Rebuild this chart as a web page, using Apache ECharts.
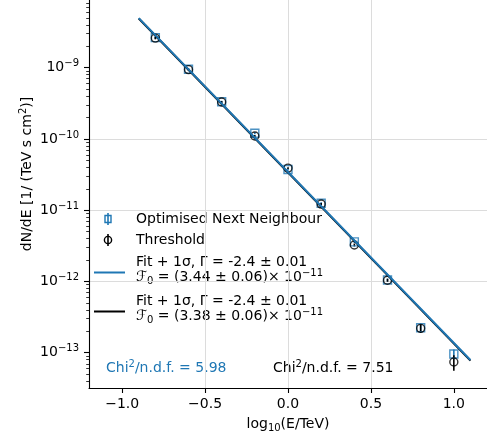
<!DOCTYPE html>
<html><head><meta charset="utf-8">
<script src="https://cdn.jsdelivr.net/npm/echarts@6/dist/echarts.min.js"></script>
<style>html,body{margin:0;padding:0;background:#fff}#c{width:487px;height:439px}</style>
</head><body><div id="c"></div>
<script>
// ---- data ----
const energyLog = [-0.8, -0.6, -0.4, -0.2, 0.0, 0.2, 0.4, 0.6, 0.8, 1.0];
const fluxONN  = [2.64e-9, 9.5e-10, 3.33e-10, 1.2e-10, 3.72e-11, 1.25e-11, 3.6e-12, 1.05e-12, 2.24e-13, 9.6e-14];
const errONN   = [1.0e-10, 3.0e-11, 1.0e-11, 4.0e-12, 1.2e-12, 4.0e-13, 1.5e-13, 5.0e-14, 3.0e-14, 1.5e-14];
const fluxThr  = [2.6e-9, 9.4e-10, 3.3e-10, 1.1e-10, 3.9e-11, 1.22e-11, 3.25e-12, 1.04e-12, 2.2e-13, 7.4e-14];
const errThr   = [1.0e-10, 3.0e-11, 1.0e-11, 4.0e-12, 1.2e-12, 4.0e-13, 1.5e-13, 5.0e-14, 3.0e-14, 1.8e-14];
const fitX     = [-0.9, 1.1];
const fitONN   = [4.97e-9, 7.9e-14];
const fitThr   = [4.9e-9, 7.75e-14];
const xTicks   = [-1.0, -0.5, 0.0, 0.5, 1.0];
const yTickExp = [-13, -12, -11, -10, -9];
const minorMult = [2, 3, 4, 5, 6, 7, 8, 9];
const seriesNames = ['Optimised Next Neighbour', 'Threshold'];
const fitLine1 = ['Fit + 1σ, Γ = -2.4 ± 0.01', 'Fit + 1σ, Γ = -2.4 ± 0.01'];
const fitNorm  = ['3.44 ± 0.06', '3.38 ± 0.06'];
const fitExp   = '−11';
const chiVals  = ['5.98', '7.51'];

// ---- styling ----
const BLUE = '#1f77b4', BLACK = '#000000';
const FONT = 'DejaVu Sans';
const FS = 14;
const lg = Math.log10;

const yMin = -13.495, yMax = -8.05;
const minorVals = [];
[-14, -13, -12, -11, -10, -9].forEach(e => minorMult.forEach(m => {
  const v = e + lg(m);
  if (v > yMin && v < yMax) minorVals.push(v);
}));

function errData(flux, err) {
  return energyLog.map((x, i) => [x, lg(flux[i] - err[i]), lg(flux[i] + err[i])]);
}
function ptData(flux) { return energyLog.map((x, i) => [x, lg(flux[i])]); }
function fitData(vals) { return fitX.map((x, i) => [x, lg(vals[i])]); }
function errSeries(flux, err, color) {
  return {
    type: 'custom', data: errData(flux, err), encode: { x: 0, y: [1, 2] }, z: 2,
    renderItem(params, api) {
      const a = api.coord([api.value(0), api.value(1)]);
      const b = api.coord([api.value(0), api.value(2)]);
      return { type: 'line', shape: { x1: a[0], y1: a[1], x2: b[0], y2: b[1] },
        style: { stroke: color, lineWidth: 1.6 } };
    }
  };
}

function richFor(c) {
  return {
    m: { fontFamily: FONT, fontSize: FS, lineHeight: 18, color: c, fill: c },
    sup: { fontFamily: FONT, fontSize: 10, lineHeight: 10, verticalAlign: 'top', color: c, fill: c },
    sub: { fontFamily: FONT, fontSize: 10, lineHeight: 10, verticalAlign: 'bottom', color: c, fill: c }
  };
}
const richMain = richFor('#000');

const chart = echarts.init(document.getElementById('c'), null, { renderer: 'canvas' });

const legendX = 136;
const graphic = [
  // y-axis title (matplotlib centres it on the full axis, part of which is cropped)
  { type: 'text', x: 27, y: 174, rotation: Math.PI / 2, style: {
      text: '{m|dN/dE [1/ (TeV s cm}{sup|2}{m|)]}', rich: richMain, align: 'center', verticalAlign: 'middle' } },
  // row 1: ONN marker
  { type: 'line', shape: { x1: 108, y1: 213, x2: 108, y2: 225 }, style: { stroke: BLUE, lineWidth: 1.6 } },
  { type: 'rect', shape: { x: 105, y: 215.5, width: 6, height: 7 }, style: { fill: 'none', stroke: BLUE, lineWidth: 1.4 } },
  { type: 'text', x: legendX, y: 219, style: { text: seriesNames[0], fontFamily: FONT, fontSize: FS, fill: '#000', verticalAlign: 'middle' } },
  // row 2: Threshold marker
  { type: 'line', shape: { x1: 108, y1: 234, x2: 108, y2: 246 }, style: { stroke: BLACK, lineWidth: 1.6 } },
  { type: 'circle', shape: { cx: 108, cy: 240, r: 3.6 }, style: { fill: 'none', stroke: BLACK, lineWidth: 1.4 } },
  { type: 'text', x: legendX, y: 240, style: { text: seriesNames[1], fontFamily: FONT, fontSize: FS, fill: '#000', verticalAlign: 'middle' } },
  // row 3: blue fit
  { type: 'line', shape: { x1: 94, y1: 272.5, x2: 125, y2: 272.5 }, style: { stroke: BLUE, lineWidth: 2 } },
  { type: 'text', x: legendX, y: 262, style: { text: fitLine1[0], fontFamily: FONT, fontSize: FS, fill: '#000', verticalAlign: 'middle' } },
  { type: 'text', x: legendX, y: 277, style: {
      text: '{m|ℱ}{sub|0}{m| = (' + fitNorm[0] + ')× 10}{sup|' + fitExp + '}', rich: richMain, verticalAlign: 'middle' } },
  // row 4: black fit
  { type: 'line', shape: { x1: 94, y1: 311.5, x2: 125, y2: 311.5 }, style: { stroke: BLACK, lineWidth: 2 } },
  { type: 'text', x: legendX, y: 301, style: { text: fitLine1[1], fontFamily: FONT, fontSize: FS, fill: '#000', verticalAlign: 'middle' } },
  { type: 'text', x: legendX, y: 316, style: {
      text: '{m|ℱ}{sub|0}{m| = (' + fitNorm[1] + ')× 10}{sup|' + fitExp + '}', rich: richMain, verticalAlign: 'middle' } },
  // chi2 annotations
  { type: 'text', x: 106, y: 368, style: { text: '{m|Chi}{sup|2}{m|/n.d.f. = ' + chiVals[0] + '}', rich: richFor(BLUE), fill: BLUE, verticalAlign: 'middle' } },
  { type: 'text', x: 273, y: 368, style: { text: '{m|Chi}{sup|2}{m|/n.d.f. = ' + chiVals[1] + '}', rich: richFor(BLACK), fill: BLACK, verticalAlign: 'middle' } }
];

const option = {
  animation: false,
  backgroundColor: '#fff',
  grid: { left: 89, right: -2, top: 0, bottom: 51, containLabel: false },
  xAxis: {
    type: 'value', min: -1.2, max: 1.2, splitNumber: 5,
    name: '{m|log}{sub|10}{m|(E/TeV)}', nameLocation: 'middle', nameGap: 27,
    nameTextStyle: { rich: { m: { fontFamily: FONT, fontSize: FS, color: '#000', lineHeight: 18 }, sub: { fontFamily: FONT, fontSize: 10, color: '#000', lineHeight: 10, verticalAlign: 'bottom' } } },
    axisLine: { onZero: false, lineStyle: { color: '#000', width: 1.1 } },
    axisTick: { length: 5, customValues: xTicks, lineStyle: { color: '#000', width: 1.1 } },
    axisLabel: { customValues: xTicks, margin: 9, fontFamily: FONT, fontSize: FS, color: '#000',
      formatter: v => v.toFixed(1).replace('-', '−') },
    splitLine: { show: true, showMinLine: false, showMaxLine: false, lineStyle: { color: '#dcdcdc', width: 1 } }
  },
  yAxis: [{
    type: 'value', min: yMin, max: yMax, position: 'left',
    axisLine: { onZero: false, lineStyle: { color: '#000', width: 1.1 } },
    axisTick: { length: 5, customValues: yTickExp, lineStyle: { color: '#000', width: 1.1 } },
    axisLabel: { customValues: yTickExp, margin: 10,
      formatter: v => '{m|10}{sup|−' + Math.abs(Math.round(v)) + '}', rich: richMain },
    splitLine: { show: true, showMinLine: false, showMaxLine: false, lineStyle: { color: '#dcdcdc', width: 1 } }
  }, {
    type: 'value', min: yMin, max: yMax, position: 'left',
    axisLine: { show: false, onZero: false },
    axisTick: { show: true, length: 2.8, customValues: minorVals, lineStyle: { color: '#000', width: 0.8 } },
    axisLabel: { show: false },
    splitLine: { show: false }
  }],
  series: [
    errSeries(fluxONN, errONN, BLUE),
    { type: 'scatter', name: seriesNames[0], data: ptData(fluxONN), symbol: 'rect', symbolSize: 8, z: 3,
      itemStyle: { color: 'rgba(0,0,0,0)', borderColor: BLUE, borderWidth: 1.4 } },
    errSeries(fluxThr, errThr, BLACK),
    { type: 'scatter', name: seriesNames[1], data: ptData(fluxThr), symbol: 'circle', symbolSize: 8, z: 4,
      itemStyle: { color: 'rgba(0,0,0,0)', borderColor: BLACK, borderWidth: 1.4 } },
    { type: 'line', data: fitData(fitThr), showSymbol: false, z: 5, lineStyle: { color: BLACK, width: 2 } },
    { type: 'line', data: fitData(fitONN), showSymbol: false, z: 6, lineStyle: { color: BLUE, width: 2 } }
  ],
  graphic: graphic
};
chart.setOption(option);
</script>
</body></html>
